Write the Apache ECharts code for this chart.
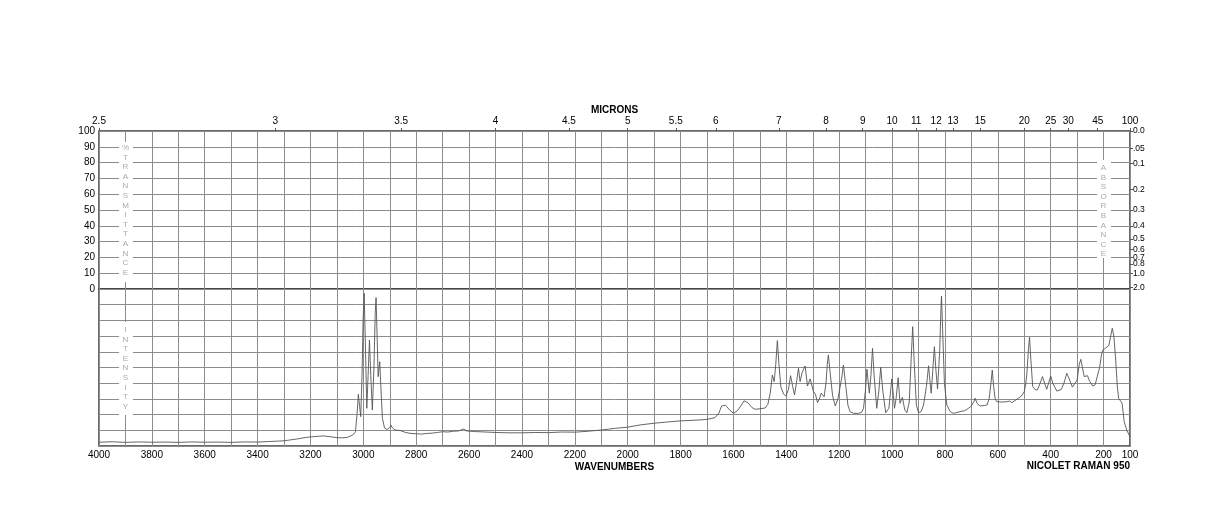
<!DOCTYPE html>
<html>
<head>
<meta charset="utf-8" />
<title>NICOLET RAMAN 950</title>
<script src="https://cdn.jsdelivr.net/npm/echarts@6/dist/echarts.min.js"></script>
<style>
    html, body { margin: 0; padding: 0; background: #fff; }
    #chart { width: 1224px; height: 528px; }
</style>
</head>
<body>
<div id="chart"></div>
<script type="text/javascript">
// 光谱数据：波数 (cm-1) 与强度（下半区 0~100）
var wavenumbers = [4000, 3950, 3900, 3850, 3800, 3750, 3700, 3650, 3600, 3550, 3500, 3450, 3400, 3350, 3300, 3250, 3220, 3200, 3170, 3150, 3120, 3100, 3080, 3060, 3040, 3030,
    3024, 3019, 3014, 3010, 3005, 3001, 2997, 2993, 2987, 2982, 2977, 2972, 2966, 2960, 2955, 2952, 2948, 2944, 2938, 2933, 2928, 2920, 2910, 2900, 2896, 2890, 2880,
    2860, 2840, 2820, 2800, 2780, 2760, 2740, 2720, 2700, 2680, 2660, 2640, 2620, 2610, 2580, 2550, 2500, 2450, 2400, 2350, 2300, 2250, 2200, 2150, 2100, 2050,
    2000, 1950, 1900, 1850, 1800, 1750, 1726, 1700, 1670, 1655, 1645, 1638, 1630, 1625, 1615, 1600, 1585, 1570, 1560, 1553, 1545, 1530, 1518, 1500, 1480, 1470,
    1461, 1453, 1446, 1440, 1434, 1428, 1421, 1410, 1401, 1392, 1384, 1376, 1369, 1362, 1354, 1348, 1340, 1329, 1320, 1310, 1297, 1290, 1282, 1275, 1268, 1257,
    1250, 1245, 1241, 1235, 1225, 1215, 1205, 1196, 1190, 1184, 1175, 1167, 1159, 1145, 1127, 1115, 1108, 1101, 1095, 1086, 1080, 1074, 1068, 1058, 1050, 1043,
    1035, 1024, 1012, 1005, 1001, 995, 991, 985, 977, 970, 961, 952, 944, 935, 928, 922, 916, 908, 900, 890, 881, 870, 862, 856, 852, 846, 840, 834, 828, 820,
    815, 813, 809, 802, 793, 780, 768, 755, 743, 725, 711, 700, 690, 686, 678, 667, 650, 641, 633, 626, 621, 616, 610, 604, 585, 566, 555, 547, 535, 522, 510,
    500, 494, 490, 484, 480, 475, 468, 458, 450, 440, 431, 423, 415, 408, 400, 392, 377, 360, 350, 339, 328, 318, 311, 300, 292, 286, 280, 273, 266, 261, 252,
    241, 232, 226, 215, 208, 203, 195, 188, 180, 172, 167, 161, 155, 148, 143, 135, 130, 122, 112, 100];
var intensity = [2.4, 2.7, 2.3, 2.6, 2.4, 2.5, 2.3, 2.6, 2.4, 2.5, 2.3, 2.6, 2.5, 2.9, 3.3, 4.5, 5.4, 5.8, 6.2, 6.4, 5.8, 5.3, 5.2, 5.5, 7.0, 9.0,
    20, 32.9, 25, 18.7, 45, 80, 97.3, 70, 24, 45, 67.5, 45, 22.9, 50, 85, 94.5, 70, 44.2, 53.7, 35, 17.6, 11.5, 10.5, 11.8, 13.4, 11.5, 10.2,
    9.8, 8.6, 8.0, 7.8, 7.6, 8.0, 8.2, 8.6, 9.1, 8.9, 9.4, 9.6, 10.8, 9.6, 9.2, 9.0, 8.6, 8.4, 8.4, 8.6, 8.5, 8.9, 8.8, 9.4, 10.2, 11.2,
    12.0, 13.5, 14.5, 15.3, 16.0, 16.4, 16.6, 17.0, 18.0, 21, 25.5, 26.6, 26, 26.8, 23, 20.8, 22.5, 26, 28.8, 29.3, 27.5, 24.5, 23.4, 23.7, 24.2, 26.5,
    33.6, 45.2, 41, 52, 67.1, 52, 37.8, 33, 31.8, 36, 44.8, 38, 32.5, 40, 49.5, 41, 47, 51, 38.2, 42.7, 34.6, 33, 27.6, 30, 33.6, 31.4,
    40, 52, 58, 48, 32, 25.5, 30, 38.2, 44, 51.6, 38, 26, 21.9, 20.8, 20.8, 21.5, 24, 35, 48.9, 33.6, 45, 62.2, 45, 24, 35, 50.1,
    35, 21.2, 24, 36, 42.7, 32, 24, 30, 43.5, 27.2, 31, 23, 21.2, 28, 55, 76, 52, 26, 21.2, 22, 26.1, 38, 51.1, 40, 33.6, 48, 63.2, 48, 36.3, 60,
    88, 95.5, 75, 40, 26.1, 21.9, 20.8, 21.3, 21.9, 22.5, 24, 25.5, 28.5, 30.4, 27, 25.5, 25.8, 26.1, 30, 40, 48.4, 38, 30, 28.2, 28, 28.2, 28.6, 27.6, 29, 30.4, 32,
    34.6, 40, 46.3, 62, 69.2, 55, 37.8, 35.8, 35.7, 40, 44.2, 40, 36.1, 40, 44.6, 40, 35, 36, 40, 46.3, 42, 37.5, 36.8, 42, 52, 55.2, 50, 44.2, 44, 44.8, 41,
    38.2, 39, 39.9, 50, 58, 61.1, 62, 61.1, 64, 71, 75, 70, 56.9, 38, 30.4, 28.5, 27.2, 15.5, 10, 5.9];

// 底部波数标签
var wnLabels = [4000, 3800, 3600, 3400, 3200, 3000, 2800, 2600, 2400, 2200, 2000, 1800, 1600, 1400, 1200, 1000, 800, 600, 400, 200, 100];
// 上方微米刻度
var microns = [2.5, 3, 3.5, 4, 4.5, 5, 5.5, 6, 7, 8, 9, 10, 11, 12, 13, 15, 20, 25, 30, 45, 100];
// 右侧吸光度刻度
var absorbance = [0, 0.05, 0.1, 0.2, 0.3, 0.4, 0.5, 0.6, 0.7, 0.8, 1.0, 2.0];
var absorbanceLabels = ['0.0', '.05', '0.1', '0.2', '0.3', '0.4', '0.5', '0.6', '0.7', '0.8', '1.0', '2.0'];

var FONT = 'Liberation Sans, Arial, Helvetica, sans-serif';
var GRID_COLOR = '#8c8c8c';
var BORDER = '#3a3a3a';

var micronValues = microns.map(function (m) { return 10000 / m; });
var transValues = absorbance.map(function (a) { return 100 * Math.pow(10, -a); });

var spectrum = wavenumbers.map(function (w, i) { return [w, intensity[i]]; });

var chart = echarts.init(document.getElementById('chart'));

var splitX = { show: true, lineStyle: { color: GRID_COLOR, width: 1 } };
var grayText = { fill: '#aaaaaa', font: '8px ' + FONT, align: 'center', verticalAlign: 'top', lineHeight: 9.6 };

var option = {
    animation: false,
    backgroundColor: '#fff',
    textStyle: { fontFamily: FONT },
    title: {
        text: 'NICOLET RAMAN 950',
        right: 94, top: 461, padding: 0,
        textStyle: { fontSize: 10, fontWeight: 'bold', color: '#000', fontFamily: FONT }
    },
    grid: [
        { left: 99, right: 94, top: 131, height: 158, show: true, borderColor: BORDER, borderWidth: 1.5 },
        { left: 99, right: 94, top: 289, height: 157, show: true, borderColor: BORDER, borderWidth: 1.5 }
    ],
    xAxis: [
        // 上半区竖直网格线
        { type: 'value', gridIndex: 0, min: 100, max: 4000, interval: 100, inverse: true, position: 'bottom',
          axisLine: { show: false, onZero: false }, axisTick: { show: false }, axisLabel: { show: false }, splitLine: splitX },
        // 微米刻度
        { type: 'value', gridIndex: 0, min: 100, max: 4000, inverse: true, position: 'top',
          name: 'MICRONS', nameLocation: 'middle', nameGap: 16,
          nameTextStyle: { fontSize: 10, fontWeight: 'bold', color: '#000', fontFamily: FONT },
          axisLine: { show: false, onZero: false },
          axisTick: { show: true, customValues: micronValues, length: 3, lineStyle: { color: '#555' } },
          axisLabel: { customValues: micronValues, margin: 5, fontSize: 10, color: '#000', fontFamily: FONT,
              formatter: function (v) {
                  for (var i = 0; i < microns.length; i++) {
                      if (Math.abs(micronValues[i] - v) < 0.5) return String(microns[i]);
                  }
                  return '';
              } },
          splitLine: { show: false } },
        // 波数轴
        { type: 'value', gridIndex: 1, min: 100, max: 4000, interval: 100, inverse: true, position: 'bottom',
          name: 'WAVENUMBERS', nameLocation: 'middle', nameGap: 16,
          nameTextStyle: { fontSize: 10, fontWeight: 'bold', color: '#000', fontFamily: FONT },
          axisLine: { show: false, onZero: false }, axisTick: { show: false },
          axisLabel: { customValues: wnLabels, margin: 4, fontSize: 10, color: '#000', fontFamily: FONT,
              formatter: function (v) { return String(Math.round(v)); } },
          splitLine: splitX }
    ],
    yAxis: [
        { type: 'value', gridIndex: 0, min: 0, max: 100, interval: 10, position: 'left',
          axisLine: { show: false }, axisTick: { show: false },
          axisLabel: { margin: 4, fontSize: 10, color: '#000', fontFamily: FONT },
          splitLine: { show: true, lineStyle: { color: GRID_COLOR, width: 1 } } },
        // 吸光度刻度
        { type: 'value', gridIndex: 0, min: 0, max: 100, position: 'right',
          axisLine: { show: false },
          axisTick: { show: true, customValues: transValues, length: 3, lineStyle: { color: '#555' } },
          axisLabel: { customValues: transValues, margin: 3, fontSize: 8.5, color: '#000', fontFamily: FONT,
              formatter: function (v) {
                  for (var i = 0; i < transValues.length; i++) {
                      if (Math.abs(transValues[i] - v) < 0.01) return absorbanceLabels[i];
                  }
                  return '';
              } },
          splitLine: { show: false } },
        { type: 'value', gridIndex: 1, min: 0, max: 100, interval: 10, position: 'left',
          axisLine: { show: false }, axisTick: { show: false }, axisLabel: { show: false },
          splitLine: { show: true, lineStyle: { color: GRID_COLOR, width: 1 } } }
    ],
    graphic: [
        { type: 'rect', z: 5, shape: { x: 119, y: 142, width: 14, height: 140 }, style: { fill: '#fff' } },
        { type: 'text', z: 6, x: 125.5, y: 143, style: Object.assign({ text: '%\nT\nR\nA\nN\nS\nM\nI\nT\nT\nA\nN\nC\nE' }, grayText) },
        { type: 'rect', z: 5, shape: { x: 1097, y: 160, width: 14, height: 98 }, style: { fill: '#fff' } },
        { type: 'text', z: 6, x: 1103.5, y: 163, style: Object.assign({ text: 'A\nB\nS\nO\nR\nB\nA\nN\nC\nE' }, grayText) },
        { type: 'rect', z: 5, shape: { x: 119, y: 322, width: 14, height: 93 }, style: { fill: '#fff' } },
        { type: 'text', z: 6, x: 125.5, y: 325, style: Object.assign({ text: 'I\nN\nT\nE\nN\nS\nI\nT\nY' }, grayText) }
    ],
    series: [
        {
            name: 'Raman',
            type: 'line',
            xAxisIndex: 2,
            yAxisIndex: 2,
            data: spectrum,
            showSymbol: false,
            symbol: 'none',
            lineStyle: { color: '#555', width: 0.9 },
            z: 3
        }
    ]
};
chart.setOption(option);
</script>
</body>
</html>
